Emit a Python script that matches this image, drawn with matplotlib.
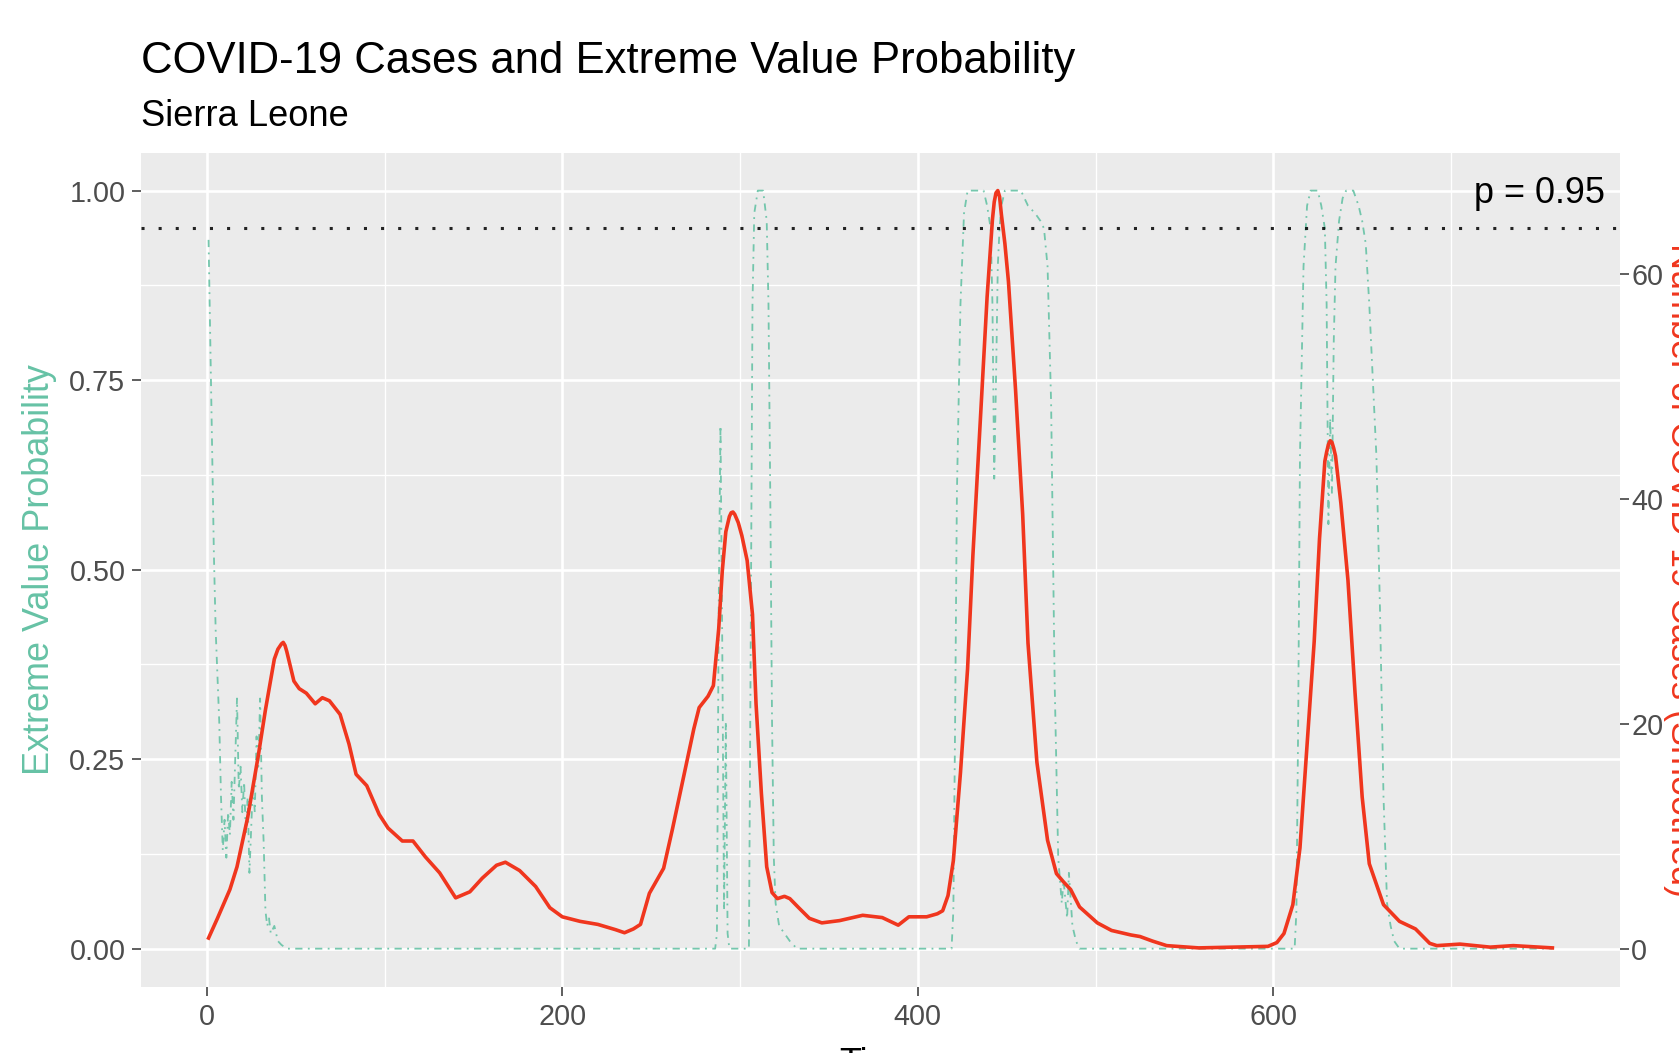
import matplotlib
matplotlib.use("Agg")
import matplotlib.pyplot as plt
from matplotlib.ticker import FixedLocator

plt.rcParams['font.family'] = ['Liberation Sans', 'DejaVu Sans']

# smoothed daily cases, scaled so that the biggest wave is 1
case_days = [1, 6, 13, 17, 23, 29, 33, 38, 40, 42, 43, 44, 45, 49, 52, 56, 61,
             65, 69, 75, 80, 84, 90, 97, 102, 110, 116, 123, 131, 140, 148,
             155, 163, 168, 176, 185, 193, 200, 210, 220, 230, 235, 240, 244,
             249, 257, 262, 268, 274, 277, 282, 285, 288, 290, 292, 294, 295,
             296, 297, 299, 301, 304, 307, 309, 312, 315, 318, 321, 325, 328,
             333, 339, 346, 356, 369, 380, 389, 395, 405, 411, 414, 417, 420,
             424, 428, 431, 435, 439, 442, 443, 444, 445, 446, 447, 449, 451,
             455, 459, 462, 467, 473, 478, 482, 486, 491, 501, 509, 520, 525,
             532, 540, 558, 578, 597, 602, 606, 611, 615, 619, 623, 626, 629,
             630, 631, 632, 633, 634, 635, 638, 642, 646, 650, 654, 662, 671,
             680, 688, 692, 705, 722, 735, 757]
case_scaled = [0.014, 0.040, 0.078, 0.108, 0.173, 0.255, 0.315, 0.382, 0.395,
               0.402, 0.404, 0.400, 0.392, 0.353, 0.343, 0.337, 0.323, 0.331,
               0.327, 0.309, 0.270, 0.230, 0.215, 0.177, 0.159, 0.142, 0.142,
               0.121, 0.100, 0.067, 0.075, 0.093, 0.110, 0.114, 0.103, 0.082,
               0.054, 0.042, 0.036, 0.032, 0.025, 0.021, 0.026, 0.032, 0.073,
               0.106, 0.158, 0.224, 0.290, 0.318, 0.333, 0.347, 0.422, 0.498,
               0.550, 0.570, 0.575, 0.576, 0.573, 0.562, 0.545, 0.512, 0.441,
               0.323, 0.205, 0.108, 0.074, 0.066, 0.069, 0.066, 0.054, 0.040,
               0.034, 0.037, 0.044, 0.041, 0.031, 0.042, 0.042, 0.046, 0.050,
               0.070, 0.116, 0.232, 0.369, 0.519, 0.689, 0.860, 0.962, 0.985,
               0.997, 1.000, 0.992, 0.969, 0.930, 0.880, 0.737, 0.573, 0.403,
               0.246, 0.143, 0.099, 0.088, 0.078, 0.055, 0.034, 0.024, 0.018,
               0.016, 0.010, 0.004, 0.001, 0.002, 0.003, 0.008, 0.020, 0.058,
               0.133, 0.269, 0.405, 0.541, 0.643, 0.655, 0.665, 0.670, 0.668,
               0.660, 0.650, 0.588, 0.486, 0.337, 0.200, 0.112, 0.058, 0.036,
               0.026, 0.007, 0.004, 0.006, 0.002, 0.004, 0.001]

# probability of an extreme value
prob_days = [1, 2, 3, 4, 5, 6, 7, 8, 9, 10, 11, 12, 13, 14, 15, 16, 17, 18,
             19, 20, 21, 22, 23, 24, 25, 26, 27, 28, 29, 30, 31, 32, 33, 34,
             35, 36, 38, 40, 42, 45, 286, 287, 288, 289, 290, 291, 292, 293,
             294, 305, 306, 307, 308, 310, 313, 315, 316, 317, 318, 319, 320,
             322, 325, 328, 332, 419, 420, 421, 422, 424, 426, 428, 437, 439,
             441, 442, 443, 444, 445, 446, 447, 449, 458, 462, 466, 469, 471,
             473, 475, 477, 479, 481, 482, 484, 485, 487, 489, 491, 612, 613,
             614, 615, 617, 619, 621, 625, 627, 629, 630, 631, 632, 633, 634,
             635, 637, 639, 641, 645, 648, 650, 652, 654, 656, 658, 660, 662,
             664, 666, 668, 671, 757]
prob_values = [0.935, 0.80, 0.66, 0.52, 0.42, 0.36, 0.30, 0.20, 0.13, 0.17,
               0.12, 0.18, 0.15, 0.22, 0.17, 0.25, 0.33, 0.21, 0.24, 0.18,
               0.22, 0.15, 0.20, 0.10, 0.16, 0.22, 0.18, 0.28, 0.24, 0.33,
               0.20, 0.14, 0.05, 0.03, 0.04, 0.02, 0.03, 0.01, 0.005, 0.0,
               0.0, 0.02, 0.45, 0.69, 0.40, 0.05, 0.30, 0.02, 0.0, 0.0, 0.40,
               0.85, 0.97, 1.0, 1.0, 0.96, 0.85, 0.60, 0.30, 0.12, 0.06, 0.03,
               0.02, 0.01, 0.0, 0.0, 0.05, 0.30, 0.60, 0.85, 0.97, 1.0, 1.0,
               0.98, 0.95, 0.85, 0.62, 0.75, 0.90, 0.95, 0.98, 1.0, 1.0, 0.98,
               0.97, 0.96, 0.95, 0.90, 0.72, 0.35, 0.12, 0.06, 0.09, 0.04,
               0.10, 0.03, 0.01, 0.0, 0.0, 0.05, 0.30, 0.65, 0.90, 0.98, 1.0,
               1.0, 0.98, 0.95, 0.85, 0.56, 0.70, 0.60, 0.80, 0.90, 0.96, 0.99,
               1.0, 1.0, 0.98, 0.96, 0.93, 0.85, 0.75, 0.65, 0.45, 0.20, 0.06,
               0.03, 0.01, 0.0, 0.0]

MAX_CASES = 67.4     # right axis: cases = scaled value * MAX_CASES
THRESHOLD = 0.95

TEAL = '#66C2A5'
RED = '#F0361E'
PANEL = '#EBEBEB'
TICK_LABEL = '#4D4D4D'
TICK = '#333333'


def main():
    fig = plt.figure(figsize=(16.79, 10.53), dpi=100)
    ax = fig.add_axes([0.0842, 0.0631, 0.9646 - 0.0842, 0.855 - 0.0631])

    ax.set_facecolor(PANEL)
    for s in ax.spines.values():
        s.set_visible(False)
    ax.set_xlim(-36.8, 794.8)
    ax.set_ylim(-0.05, 1.05)

    ax.xaxis.set_major_locator(FixedLocator([0, 200, 400, 600]))
    ax.xaxis.set_minor_locator(FixedLocator([100, 300, 500, 700]))
    ax.yaxis.set_major_locator(FixedLocator([0, 0.25, 0.5, 0.75, 1.0]))
    ax.yaxis.set_minor_locator(FixedLocator([0.125, 0.375, 0.625, 0.875]))
    ax.set_yticklabels(['0.00', '0.25', '0.50', '0.75', '1.00'])
    ax.grid(which='major', color='white', linewidth=1.9)
    ax.grid(which='minor', color='white', linewidth=0.95)
    ax.set_axisbelow(True)
    ax.tick_params(which='major', length=6.5, width=1.1, color=TICK,
                   labelsize=20.7, labelcolor=TICK_LABEL, pad=5)
    ax.tick_params(which='minor', length=0)

    ax.plot(prob_days, prob_values, color=TEAL, alpha=0.9, linewidth=1.3,
            linestyle=(0, (4, 3, 1, 3)))
    ax.axhline(THRESHOLD, color='black', alpha=0.85, linewidth=2.2,
               linestyle=(0, (1, 4.6)))
    ax.plot(case_days, case_scaled, color=RED, linewidth=2.6)
    ax.text(786.7, 0.983, 'p = 0.95', ha='right', va='baseline',
            fontsize=25.9, color='black')

    sec = ax.secondary_yaxis('right', functions=(lambda p: p * MAX_CASES,
                                                 lambda c: c / MAX_CASES))
    sec.set_yticks([0, 20, 40, 60])
    sec.tick_params(length=6.5, width=1.1, color=TICK, labelsize=20.7,
                    labelcolor=TICK_LABEL, pad=2)
    for s in sec.spines.values():
        s.set_visible(False)

    # titles and axis titles
    fig.text(0.0842, 0.9307, 'COVID-19 Cases and Extreme Value Probability',
             ha='left', va='baseline', fontsize=31.4, color='black')
    fig.text(0.0842, 0.8800, 'Sierra Leone', ha='left', va='baseline',
             fontsize=26.1, color='black')
    fig.text(0.0236, 0.459, 'Extreme Value Probability', rotation=90,
             ha='center', va='center', fontsize=25.9, color=TEAL)
    fig.text(0.9902, 0.459, 'Number of COVID-19 Cases (Smoothed)',
             rotation=270, ha='left', va='center', fontsize=25.9, color=RED)
    fig.text(0.5235, 0.0057, 'Time', ha='center', va='top', fontsize=25.9,
             color='black')

    fig.savefig('out.png', dpi=100, facecolor='white')


if __name__ == "__main__":
    main()
